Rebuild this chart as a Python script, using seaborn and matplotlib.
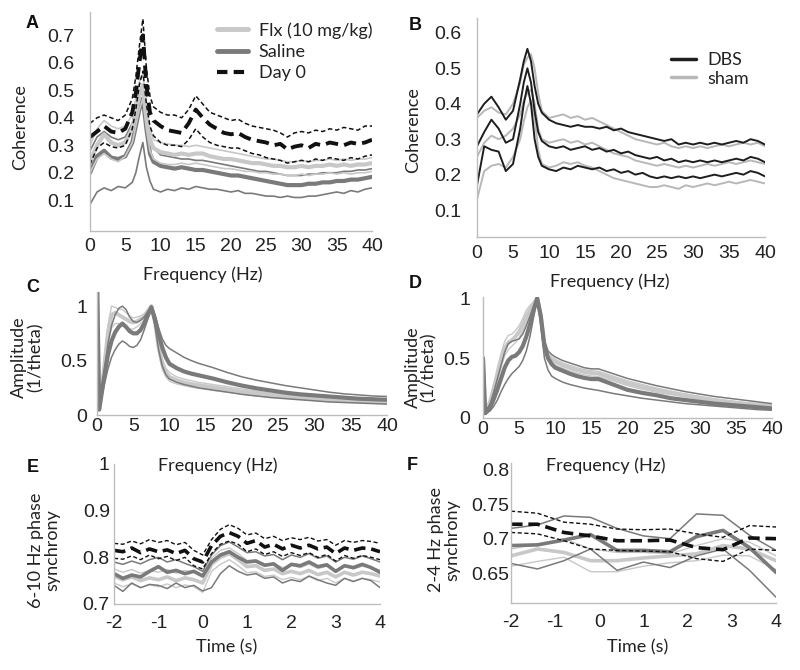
import numpy as np
import pandas as pd
import seaborn as sns
import matplotlib
matplotlib.use("Agg")
import matplotlib.pyplot as plt
from matplotlib.lines import Line2D

# ---------------- data ----------------
# Panel A / B: coherence vs frequency
freq = [0, 1, 2, 3, 4, 5, 6, 6.5, 7, 7.5, 8, 8.5, 9, 10, 11, 12, 13, 14, 15, 16, 17, 18, 19, 20,
        21, 22, 23, 24, 25, 26, 27, 28, 29, 30, 31, 32, 33, 34, 35, 36, 37, 38, 39, 40]

a_day0_hi = [0.38, 0.40, 0.41, 0.40, 0.39, 0.41, 0.47, 0.55, 0.66, 0.76, 0.58, 0.48, 0.44, 0.42, 0.41, 0.41,
             0.40, 0.43, 0.48, 0.45, 0.42, 0.41, 0.40, 0.39, 0.395, 0.38, 0.37, 0.365, 0.36, 0.355, 0.345,
             0.33, 0.345, 0.35, 0.345, 0.355, 0.35, 0.36, 0.355, 0.365, 0.36, 0.355, 0.37, 0.37]
a_day0_mu = [0.33, 0.35, 0.37, 0.35, 0.345, 0.36, 0.42, 0.49, 0.60, 0.70, 0.52, 0.42, 0.39, 0.37, 0.355, 0.35,
             0.345, 0.38, 0.43, 0.40, 0.375, 0.36, 0.345, 0.34, 0.345, 0.33, 0.32, 0.315, 0.31, 0.30, 0.305,
             0.285, 0.295, 0.30, 0.29, 0.305, 0.30, 0.31, 0.305, 0.30, 0.31, 0.305, 0.31, 0.32]
a_day0_lo = [0.23, 0.29, 0.31, 0.295, 0.29, 0.30, 0.36, 0.43, 0.52, 0.57, 0.45, 0.37, 0.335, 0.31, 0.30, 0.30,
             0.295, 0.32, 0.36, 0.33, 0.31, 0.30, 0.295, 0.29, 0.29, 0.28, 0.27, 0.265, 0.255, 0.25, 0.245,
             0.235, 0.24, 0.245, 0.24, 0.25, 0.245, 0.255, 0.25, 0.245, 0.255, 0.25, 0.26, 0.265]
a_flx_hi = [0.30, 0.36, 0.39, 0.37, 0.36, 0.37, 0.41, 0.47, 0.53, 0.56, 0.45, 0.36, 0.32, 0.31, 0.305, 0.30,
            0.30, 0.295, 0.30, 0.295, 0.29, 0.285, 0.28, 0.275, 0.27, 0.265, 0.26, 0.255, 0.25, 0.25, 0.245,
            0.24, 0.24, 0.245, 0.24, 0.245, 0.245, 0.25, 0.245, 0.25, 0.245, 0.25, 0.25, 0.255]
a_flx_mu = [0.24, 0.30, 0.34, 0.31, 0.30, 0.31, 0.36, 0.42, 0.48, 0.52, 0.40, 0.32, 0.29, 0.275, 0.27, 0.265,
            0.27, 0.265, 0.27, 0.27, 0.26, 0.255, 0.25, 0.25, 0.245, 0.24, 0.235, 0.235, 0.23, 0.225, 0.225,
            0.22, 0.22, 0.225, 0.22, 0.225, 0.225, 0.23, 0.225, 0.23, 0.225, 0.23, 0.23, 0.235]
a_flx_lo = [0.20, 0.25, 0.27, 0.25, 0.24, 0.26, 0.31, 0.37, 0.43, 0.47, 0.36, 0.28, 0.25, 0.235, 0.23, 0.23,
            0.235, 0.23, 0.235, 0.23, 0.225, 0.22, 0.215, 0.215, 0.21, 0.205, 0.205, 0.20, 0.20, 0.195, 0.195,
            0.19, 0.19, 0.195, 0.19, 0.195, 0.195, 0.20, 0.195, 0.20, 0.195, 0.20, 0.20, 0.205]
a_sal_hi = [0.28, 0.33, 0.35, 0.33, 0.32, 0.33, 0.38, 0.44, 0.49, 0.52, 0.42, 0.33, 0.29, 0.265, 0.26, 0.255,
            0.25, 0.25, 0.245, 0.245, 0.24, 0.235, 0.23, 0.225, 0.22, 0.215, 0.21, 0.205, 0.205, 0.20, 0.195,
            0.19, 0.19, 0.19, 0.195, 0.195, 0.20, 0.20, 0.20, 0.205, 0.205, 0.21, 0.21, 0.215]
a_sal_mu = [0.20, 0.26, 0.28, 0.255, 0.25, 0.26, 0.31, 0.37, 0.43, 0.47, 0.36, 0.27, 0.24, 0.225, 0.22, 0.215,
            0.22, 0.215, 0.21, 0.21, 0.205, 0.20, 0.195, 0.19, 0.19, 0.185, 0.18, 0.175, 0.17, 0.165, 0.16,
            0.155, 0.155, 0.155, 0.16, 0.16, 0.165, 0.165, 0.17, 0.17, 0.175, 0.175, 0.18, 0.185]
a_sal_lo = [0.085, 0.13, 0.145, 0.135, 0.15, 0.145, 0.165, 0.20, 0.26, 0.31, 0.22, 0.17, 0.14, 0.13, 0.14, 0.135,
            0.145, 0.14, 0.15, 0.145, 0.14, 0.14, 0.135, 0.13, 0.135, 0.125, 0.125, 0.12, 0.115, 0.115, 0.11,
            0.115, 0.11, 0.11, 0.115, 0.115, 0.12, 0.125, 0.13, 0.125, 0.135, 0.13, 0.14, 0.145]

b_dbs_hi = [0.37, 0.40, 0.42, 0.39, 0.355, 0.38, 0.47, 0.52, 0.555, 0.52, 0.45, 0.40, 0.375, 0.355, 0.345, 0.34,
            0.335, 0.34, 0.335, 0.335, 0.33, 0.335, 0.325, 0.33, 0.32, 0.315, 0.31, 0.305, 0.30, 0.295, 0.30,
            0.285, 0.29, 0.285, 0.29, 0.285, 0.29, 0.285, 0.29, 0.295, 0.29, 0.30, 0.295, 0.285]
b_dbs_mu = [0.28, 0.32, 0.355, 0.33, 0.29, 0.30, 0.40, 0.46, 0.50, 0.46, 0.38, 0.32, 0.295, 0.28, 0.275, 0.28,
            0.27, 0.275, 0.28, 0.27, 0.275, 0.265, 0.27, 0.26, 0.265, 0.255, 0.25, 0.245, 0.25, 0.24, 0.245,
            0.235, 0.24, 0.235, 0.24, 0.235, 0.24, 0.235, 0.24, 0.245, 0.24, 0.25, 0.245, 0.235]
b_dbs_lo = [0.17, 0.28, 0.27, 0.265, 0.21, 0.23, 0.33, 0.40, 0.45, 0.40, 0.30, 0.25, 0.225, 0.215, 0.21, 0.22,
            0.215, 0.225, 0.22, 0.215, 0.22, 0.21, 0.215, 0.205, 0.21, 0.20, 0.205, 0.195, 0.19, 0.195, 0.19,
            0.195, 0.19, 0.195, 0.19, 0.195, 0.20, 0.195, 0.20, 0.205, 0.20, 0.21, 0.205, 0.195]
b_sham_hi = [0.36, 0.38, 0.39, 0.375, 0.37, 0.40, 0.46, 0.51, 0.53, 0.54, 0.50, 0.43, 0.38, 0.36, 0.365, 0.37,
             0.36, 0.365, 0.355, 0.36, 0.35, 0.34, 0.33, 0.32, 0.31, 0.30, 0.295, 0.29, 0.285, 0.29, 0.28,
             0.275, 0.28, 0.275, 0.28, 0.275, 0.28, 0.285, 0.28, 0.285, 0.29, 0.285, 0.29, 0.28]
b_sham_mu = [0.25, 0.29, 0.31, 0.30, 0.31, 0.33, 0.37, 0.41, 0.43, 0.44, 0.40, 0.33, 0.30, 0.29, 0.295, 0.30,
             0.29, 0.295, 0.285, 0.29, 0.28, 0.27, 0.26, 0.255, 0.25, 0.24, 0.235, 0.23, 0.225, 0.23, 0.225,
             0.22, 0.225, 0.22, 0.225, 0.23, 0.225, 0.23, 0.235, 0.23, 0.235, 0.24, 0.235, 0.23]
b_sham_lo = [0.13, 0.21, 0.225, 0.23, 0.22, 0.25, 0.30, 0.35, 0.39, 0.41, 0.36, 0.27, 0.23, 0.22, 0.225, 0.235,
             0.23, 0.235, 0.225, 0.22, 0.21, 0.20, 0.19, 0.185, 0.18, 0.175, 0.17, 0.165, 0.165, 0.17, 0.165,
             0.16, 0.17, 0.165, 0.17, 0.175, 0.17, 0.175, 0.18, 0.175, 0.18, 0.185, 0.18, 0.175]

# Panel C / D: normalised amplitude spectra
amp_freq = [0, 0.3, 1, 1.5, 2, 2.5, 3, 3.5, 4, 4.5, 5, 5.5, 6, 6.5, 7, 7.5, 8, 8.5, 9, 9.5, 10,
            11, 12, 13, 14, 15, 16, 18, 20, 22, 24, 26, 28, 30, 32, 34, 36, 38, 40]

c_sal_hi = [1.3, 0.05, 0.40, 0.65, 0.82, 0.92, 0.98, 1.00, 0.97, 0.90, 0.86, 0.85, 0.87, 0.90, 0.95, 1.00, 0.92,
            0.80, 0.70, 0.64, 0.61, 0.57, 0.53, 0.50, 0.475, 0.455, 0.435, 0.39, 0.35, 0.32, 0.295, 0.27,
            0.25, 0.23, 0.21, 0.195, 0.185, 0.175, 0.17]
c_sal_mu = [1.3, 0.05, 0.35, 0.55, 0.68, 0.76, 0.81, 0.84, 0.81, 0.77, 0.75, 0.75, 0.78, 0.84, 0.92, 0.99, 0.88,
            0.74, 0.62, 0.53, 0.47, 0.43, 0.40, 0.38, 0.365, 0.35, 0.335, 0.30, 0.27, 0.245, 0.225, 0.205,
            0.19, 0.18, 0.17, 0.16, 0.15, 0.145, 0.14]
c_sal_lo = [1.3, 0.05, 0.28, 0.42, 0.53, 0.60, 0.65, 0.68, 0.66, 0.63, 0.62, 0.64, 0.69, 0.78, 0.88, 0.97, 0.82,
            0.60, 0.45, 0.37, 0.33, 0.30, 0.28, 0.265, 0.25, 0.24, 0.23, 0.21, 0.19, 0.175, 0.16, 0.15,
            0.14, 0.13, 0.12, 0.115, 0.11, 0.105, 0.10]
c_flx_hi = [1.3, 0.05, 0.50, 0.82, 1.00, 0.99, 0.97, 0.97, 0.94, 0.91, 0.89, 0.90, 0.91, 0.93, 0.97, 1.00, 0.88,
            0.67, 0.52, 0.43, 0.39, 0.35, 0.33, 0.315, 0.30, 0.29, 0.28, 0.26, 0.24, 0.22, 0.20, 0.19,
            0.175, 0.165, 0.155, 0.15, 0.14, 0.135, 0.13]
c_flx_mu = [1.3, 0.05, 0.45, 0.75, 0.92, 0.94, 0.92, 0.90, 0.88, 0.86, 0.85, 0.86, 0.88, 0.90, 0.95, 1.00, 0.85,
            0.62, 0.47, 0.39, 0.35, 0.32, 0.30, 0.285, 0.275, 0.265, 0.255, 0.235, 0.215, 0.20, 0.185, 0.17,
            0.16, 0.15, 0.14, 0.135, 0.13, 0.125, 0.12]
c_flx_lo = [1.3, 0.05, 0.40, 0.66, 0.80, 0.84, 0.84, 0.82, 0.80, 0.79, 0.79, 0.81, 0.84, 0.87, 0.93, 0.99, 0.82,
            0.58, 0.42, 0.35, 0.31, 0.285, 0.27, 0.255, 0.245, 0.235, 0.225, 0.21, 0.19, 0.175, 0.165, 0.155,
            0.145, 0.135, 0.125, 0.12, 0.115, 0.11, 0.105]

d_sal_hi = [0.55, 0.05, 0.12, 0.22, 0.33, 0.44, 0.55, 0.62, 0.64, 0.65, 0.66, 0.70, 0.77, 0.85, 0.93, 1.00, 0.88,
            0.65, 0.56, 0.53, 0.51, 0.48, 0.46, 0.44, 0.42, 0.41, 0.41, 0.37, 0.33, 0.30, 0.27, 0.245,
            0.22, 0.20, 0.18, 0.165, 0.15, 0.135, 0.12]
d_sal_mu = [0.50, 0.04, 0.09, 0.16, 0.24, 0.33, 0.42, 0.48, 0.51, 0.52, 0.55, 0.60, 0.68, 0.78, 0.90, 1.00, 0.85,
            0.60, 0.50, 0.45, 0.42, 0.395, 0.37, 0.35, 0.335, 0.325, 0.325, 0.28, 0.235, 0.21, 0.19, 0.165,
            0.15, 0.135, 0.12, 0.11, 0.10, 0.09, 0.08]
d_sal_lo = [0.45, 0.03, 0.06, 0.10, 0.15, 0.22, 0.28, 0.33, 0.37, 0.40, 0.43, 0.48, 0.56, 0.68, 0.84, 0.99, 0.78,
            0.50, 0.40, 0.35, 0.33, 0.30, 0.28, 0.265, 0.25, 0.24, 0.23, 0.205, 0.185, 0.165, 0.15, 0.135,
            0.12, 0.11, 0.10, 0.09, 0.08, 0.07, 0.065]
d_flx_hi = [0.50, 0.05, 0.16, 0.29, 0.42, 0.54, 0.64, 0.69, 0.70, 0.73, 0.77, 0.83, 0.90, 0.94, 0.97, 1.00, 0.87,
            0.63, 0.54, 0.51, 0.49, 0.46, 0.44, 0.42, 0.405, 0.395, 0.39, 0.35, 0.31, 0.28, 0.25, 0.225,
            0.20, 0.18, 0.16, 0.145, 0.13, 0.12, 0.11]
d_flx_mu = [0.50, 0.05, 0.14, 0.25, 0.36, 0.48, 0.58, 0.63, 0.65, 0.68, 0.72, 0.78, 0.85, 0.90, 0.95, 1.00, 0.85,
            0.60, 0.52, 0.49, 0.47, 0.44, 0.42, 0.40, 0.385, 0.375, 0.37, 0.33, 0.29, 0.26, 0.235, 0.21,
            0.19, 0.17, 0.15, 0.135, 0.12, 0.11, 0.10]
d_flx_lo = [0.50, 0.05, 0.12, 0.21, 0.31, 0.42, 0.52, 0.57, 0.60, 0.63, 0.67, 0.73, 0.80, 0.86, 0.93, 1.00, 0.83,
            0.57, 0.49, 0.46, 0.44, 0.415, 0.395, 0.375, 0.36, 0.35, 0.345, 0.31, 0.27, 0.24, 0.215, 0.195,
            0.175, 0.155, 0.14, 0.125, 0.11, 0.10, 0.09]

# Panel E: 6-10 Hz phase synchrony vs time
time_e = [-2.0, -1.8, -1.6, -1.4, -1.2, -1.0, -0.8, -0.6, -0.4, -0.2, 0.0, 0.2, 0.4, 0.6, 0.8, 1.0,
          1.2, 1.4, 1.6, 1.8, 2.0, 2.2, 2.4, 2.6, 2.8, 3.0, 3.2, 3.4, 3.6, 3.8, 4.0]
e_day0_hi = [0.830, 0.828, 0.835, 0.829, 0.838, 0.832, 0.836, 0.827, 0.832, 0.815, 0.805, 0.838, 0.860, 0.870,
             0.862, 0.848, 0.852, 0.840, 0.845, 0.836, 0.842, 0.838, 0.843, 0.835, 0.838, 0.826, 0.836, 0.832,
             0.836, 0.834, 0.830]
e_day0_mu = [0.815, 0.812, 0.820, 0.810, 0.818, 0.812, 0.816, 0.808, 0.815, 0.797, 0.790, 0.825, 0.845, 0.853,
             0.845, 0.830, 0.836, 0.822, 0.828, 0.818, 0.826, 0.820, 0.826, 0.818, 0.822, 0.808, 0.820, 0.815,
             0.820, 0.818, 0.812]
e_day0_lo = [0.798, 0.796, 0.803, 0.795, 0.805, 0.797, 0.802, 0.793, 0.800, 0.782, 0.775, 0.808, 0.828, 0.835,
             0.828, 0.812, 0.818, 0.806, 0.812, 0.802, 0.810, 0.804, 0.810, 0.800, 0.806, 0.792, 0.804, 0.798,
             0.804, 0.800, 0.795]
e_sal_hi = [0.790, 0.785, 0.792, 0.786, 0.795, 0.800, 0.790, 0.795, 0.787, 0.780, 0.770, 0.805, 0.825, 0.833,
            0.822, 0.810, 0.812, 0.803, 0.806, 0.795, 0.805, 0.800, 0.808, 0.798, 0.803, 0.790, 0.800, 0.796,
            0.803, 0.797, 0.790]
e_sal_mu = [0.765, 0.755, 0.762, 0.758, 0.770, 0.780, 0.768, 0.772, 0.765, 0.770, 0.760, 0.790, 0.805, 0.812,
            0.800, 0.790, 0.792, 0.783, 0.786, 0.772, 0.785, 0.782, 0.790, 0.780, 0.784, 0.770, 0.782, 0.778,
            0.785, 0.778, 0.768]
e_sal_lo = [0.740, 0.727, 0.745, 0.735, 0.742, 0.740, 0.733, 0.745, 0.735, 0.740, 0.728, 0.735, 0.765, 0.782,
            0.770, 0.762, 0.765, 0.755, 0.758, 0.745, 0.752, 0.748, 0.760, 0.752, 0.745, 0.740, 0.755, 0.748,
            0.755, 0.750, 0.735]
e_flx_hi = [0.775, 0.768, 0.774, 0.766, 0.772, 0.768, 0.774, 0.766, 0.772, 0.768, 0.760, 0.798, 0.815, 0.820,
            0.808, 0.793, 0.795, 0.785, 0.788, 0.778, 0.783, 0.778, 0.785, 0.776, 0.781, 0.771, 0.781, 0.775,
            0.781, 0.778, 0.773]
e_flx_mu = [0.760, 0.752, 0.758, 0.750, 0.756, 0.752, 0.758, 0.750, 0.756, 0.752, 0.745, 0.785, 0.800, 0.808,
            0.795, 0.780, 0.782, 0.772, 0.775, 0.765, 0.770, 0.765, 0.772, 0.763, 0.768, 0.758, 0.768, 0.762,
            0.768, 0.765, 0.760]
e_flx_lo = [0.745, 0.737, 0.743, 0.735, 0.741, 0.737, 0.743, 0.735, 0.741, 0.737, 0.725, 0.770, 0.785, 0.795,
            0.782, 0.767, 0.769, 0.759, 0.762, 0.752, 0.757, 0.752, 0.759, 0.750, 0.755, 0.745, 0.755, 0.749,
            0.755, 0.752, 0.747]

# Panel F: 2-4 Hz phase synchrony vs time
time_f = [-2.0, -1.4, -0.8, -0.2, 0.4, 1.0, 1.6, 2.2, 2.8, 3.4, 4.0]
f_day0_hi = [0.740, 0.737, 0.724, 0.721, 0.714, 0.713, 0.714, 0.707, 0.702, 0.719, 0.717]
f_day0_mu = [0.721, 0.721, 0.709, 0.704, 0.697, 0.697, 0.698, 0.687, 0.684, 0.701, 0.700]
f_day0_lo = [0.709, 0.707, 0.697, 0.685, 0.683, 0.682, 0.681, 0.671, 0.667, 0.685, 0.683]
f_sal_hi = [0.715, 0.720, 0.733, 0.731, 0.715, 0.704, 0.700, 0.736, 0.734, 0.705, 0.683]
f_sal_mu = [0.690, 0.691, 0.698, 0.706, 0.683, 0.683, 0.681, 0.703, 0.712, 0.687, 0.651]
f_sal_lo = [0.664, 0.656, 0.668, 0.685, 0.654, 0.666, 0.658, 0.675, 0.685, 0.654, 0.615]
f_flx_hi = [0.685, 0.692, 0.700, 0.685, 0.680, 0.680, 0.678, 0.690, 0.700, 0.695, 0.675]
f_flx_mu = [0.675, 0.685, 0.680, 0.668, 0.668, 0.672, 0.675, 0.678, 0.690, 0.685, 0.668]
f_flx_lo = [0.660, 0.667, 0.673, 0.652, 0.652, 0.660, 0.665, 0.668, 0.676, 0.675, 0.655]

freq_ticks = [0, 5, 10, 15, 20, 25, 30, 35, 40]
time_ticks = [-2, -1, 0, 1, 2, 3, 4]
legend_a = ["Flx (10 mg/kg)", "Saline", "Day 0"]
legend_b = ["DBS", "sham"]

# ---------------- style ----------------
sns.set_style("white")
plt.rcParams["font.family"] = ["Liberation Sans", "DejaVu Sans"]
plt.rcParams["axes.unicode_minus"] = False

LIGHT = "#c8c8c8"
DARK = "#7a7a7a"
BLACK = "#111111"
SPINE = "#bdbdbd"
LBL = dict(family=["Lato", "DejaVu Sans"], fontsize=13, color="#222222")

W, H = 800, 670
fig = plt.figure(figsize=(W / 100, H / 100), dpi=100)


def make_ax(l, t, r, b):
    return fig.add_axes([l / W, 1 - b / H, (r - l) / W, (b - t) / H])


def style(ax, xlim, ylim, xt, yt, ytl, xpad, ypad):
    ax.set_xlim(*xlim)
    ax.set_ylim(*ylim)
    ax.set_xticks(xt)
    ax.set_xticklabels([str(v) for v in xt])
    ax.set_yticks(yt)
    ax.set_yticklabels(ytl)
    for s in ["top", "right"]:
        ax.spines[s].set_visible(False)
    for s in ["left", "bottom"]:
        ax.spines[s].set_color(SPINE)
        ax.spines[s].set_linewidth(1.0)
    ax.tick_params(direction="in", length=4, width=0.8, color=SPINE,
                   labelsize=14, labelcolor="#222222")
    ax.tick_params(axis="x", pad=xpad)
    ax.tick_params(axis="y", pad=ypad)
    ax.set_facecolor("white")


def line(ax, x, y, color, lw, ls="-"):
    sns.lineplot(x=x, y=y, ax=ax, color=color, lw=lw, linestyle=ls,
                 estimator=None, sort=False, legend=False)


DASH_THICK = (0, (3.2, 1.6))
DASH_THIN = (0, (3.0, 1.8))

# ---- A ----
axA = make_ax(90, 12, 372, 231)
for y, lw in [(a_sal_hi, 1.2), (a_sal_lo, 1.2), (a_sal_mu, 3.0)]:
    line(axA, freq, y, DARK, lw)
for y, lw in [(a_flx_hi, 1.2), (a_flx_lo, 1.2), (a_flx_mu, 3.0)]:
    line(axA, freq, y, LIGHT, lw)
line(axA, freq, a_day0_hi, BLACK, 1.1, DASH_THIN)
line(axA, freq, a_day0_lo, BLACK, 1.1, DASH_THIN)
line(axA, freq, a_day0_mu, BLACK, 2.8, DASH_THICK)
style(axA, (0, 40), (-0.012, 0.785), freq_ticks, [0.1, 0.2, 0.3, 0.4, 0.5, 0.6, 0.7],
      ["0.1", "0.2", "0.3", "0.4", "0.5", "0.6", "0.7"], 5, 11)
hA = [Line2D([], [], color=LIGHT, lw=3.5), Line2D([], [], color=DARK, lw=3.5),
      Line2D([], [], color=BLACK, lw=3.0, linestyle=(0, (2.5, 1.5)))]
legA = axA.legend(hA, legend_a, loc="upper left", bbox_to_anchor=(208 / W, 1 - 13 / H),
                  bbox_transform=fig.transFigure, frameon=False, handlelength=1.7,
                  handletextpad=0.6, labelspacing=0.3, borderpad=0,
                  prop=dict(family=["Lato", "DejaVu Sans"], size=13))
for t in legA.get_texts():
    t.set_color("#222222")

# ---- B ----
axB = make_ax(477, 18, 765, 237)
for y in [b_sham_hi, b_sham_mu, b_sham_lo]:
    line(axB, freq, y, "#b8b8b8", 1.4)
for y in [b_dbs_hi, b_dbs_mu, b_dbs_lo]:
    line(axB, freq, y, "#1e1e1e", 1.4)
style(axB, (0, 40), (0.024, 0.642), freq_ticks, [0.1, 0.2, 0.3, 0.4, 0.5, 0.6],
      ["0.1", "0.2", "0.3", "0.4", "0.5", "0.6"], 6, 11)
hB = [Line2D([], [], color="#1e1e1e", lw=2.5), Line2D([], [], color="#b8b8b8", lw=2.5)]
legB = axB.legend(hB, legend_b, loc="upper left", bbox_to_anchor=(662 / W, 1 - 43 / H),
                  bbox_transform=fig.transFigure, frameon=False, handlelength=1.4,
                  handletextpad=0.6, labelspacing=0.15, borderpad=0,
                  prop=dict(family=["Lato", "DejaVu Sans"], size=13))
for t in legB.get_texts():
    t.set_color("#222222")

# ---- C ----
axC = make_ax(97, 292, 387, 415)
for y, lw in [(c_flx_hi, 1.0), (c_flx_lo, 1.0), (c_flx_mu, 2.8)]:
    line(axC, amp_freq, y, LIGHT, lw)
for y, lw in [(c_sal_hi, 1.1), (c_sal_lo, 1.1), (c_sal_mu, 3.0)]:
    line(axC, amp_freq, y, DARK, lw)
style(axC, (0, 40), (0.03, 1.13), freq_ticks, [0, 0.5, 1], ["0", "0.5", "1"], 2, 7)

# ---- D ----
axD = make_ax(483, 297, 772, 418)
for y, lw in [(d_flx_hi, 1.0), (d_flx_lo, 1.0), (d_flx_mu, 2.8)]:
    line(axD, amp_freq, y, LIGHT, lw)
for y, lw in [(d_sal_hi, 1.1), (d_sal_lo, 1.1), (d_sal_mu, 3.0)]:
    line(axD, amp_freq, y, DARK, lw)
style(axD, (0, 40), (0, 1.01), freq_ticks, [0, 0.5, 1], ["0", "0.5", "1"], 2, 9)

# ---- E ----
axE = make_ax(114, 464, 380, 604)
for y, lw in [(e_flx_hi, 1.0), (e_flx_lo, 1.0), (e_flx_mu, 2.6)]:
    line(axE, time_e, y, LIGHT, lw)
for y, lw in [(e_sal_hi, 1.1), (e_sal_lo, 1.1), (e_sal_mu, 2.6)]:
    line(axE, time_e, y, DARK, lw)
line(axE, time_e, e_day0_hi, BLACK, 1.0, DASH_THIN)
line(axE, time_e, e_day0_lo, BLACK, 1.0, DASH_THIN)
line(axE, time_e, e_day0_mu, BLACK, 2.6, DASH_THICK)
style(axE, (-2, 4), (0.7, 1.0), time_ticks, [0.7, 0.8, 0.9, 1.0], ["0.7", "0.8", "0.9", "1"], 8, 3)

# ---- F ----
axF = make_ax(511, 463, 776, 603)
for y, lw in [(f_flx_hi, 1.0), (f_flx_lo, 1.0), (f_flx_mu, 2.6)]:
    line(axF, time_f, y, LIGHT, lw)
for y, lw in [(f_sal_hi, 1.1), (f_sal_lo, 1.1), (f_sal_mu, 2.6)]:
    line(axF, time_f, y, DARK, lw)
line(axF, time_f, f_day0_hi, BLACK, 1.0, DASH_THIN)
line(axF, time_f, f_day0_lo, BLACK, 1.0, DASH_THIN)
line(axF, time_f, f_day0_mu, BLACK, 2.6, DASH_THICK)
style(axF, (-2, 4), (0.6065, 0.81), time_ticks, [0.65, 0.7, 0.75, 0.8],
      ["0.65", "0.7", "0.75", "0.8"], 8, 1)

# ---------------- labels ----------------
def ftext(x, y, s, **kw):
    fig.text(x / W, 1 - y / H, s, ha="center", va="center", **kw)

ftext(20, 127, "Coherence", rotation=90, **LBL)
ftext(413, 130, "Coherence", rotation=90, **LBL)
ftext(27, 357, "Amplitude\n(1/theta)", rotation=90, linespacing=1.05, **LBL)
ftext(421, 367, "Amplitude\n(1/theta)", rotation=90, linespacing=1.0, **LBL)
ftext(44, 550, "6-10 Hz phase\nsynchrony", rotation=90, linespacing=1.05, **LBL)
ftext(444, 540, "2-4 Hz phase\nsynchrony", rotation=90, linespacing=1.05, **LBL)

ftext(203, 275, "Frequency (Hz)", **LBL)
ftext(610, 282, "Frequency (Hz)", **LBL)
ftext(218, 466, "Frequency (Hz)", **LBL)
ftext(606, 466, "Frequency (Hz)", **LBL)
ftext(227, 647, "Time (s)", **LBL)
ftext(638, 647, "Time (s)", **LBL)

PL = dict(family=["Liberation Sans", "DejaVu Sans"], fontsize=13, fontweight="bold", color="#111111")
for s, x, y in [("A", 32, 23), ("B", 415, 25), ("C", 33, 288), ("D", 415, 283), ("E", 33, 468), ("F", 412, 465)]:
    ftext(x, y, s, **PL)

fig.savefig("out.png", dpi=100, facecolor="white")
